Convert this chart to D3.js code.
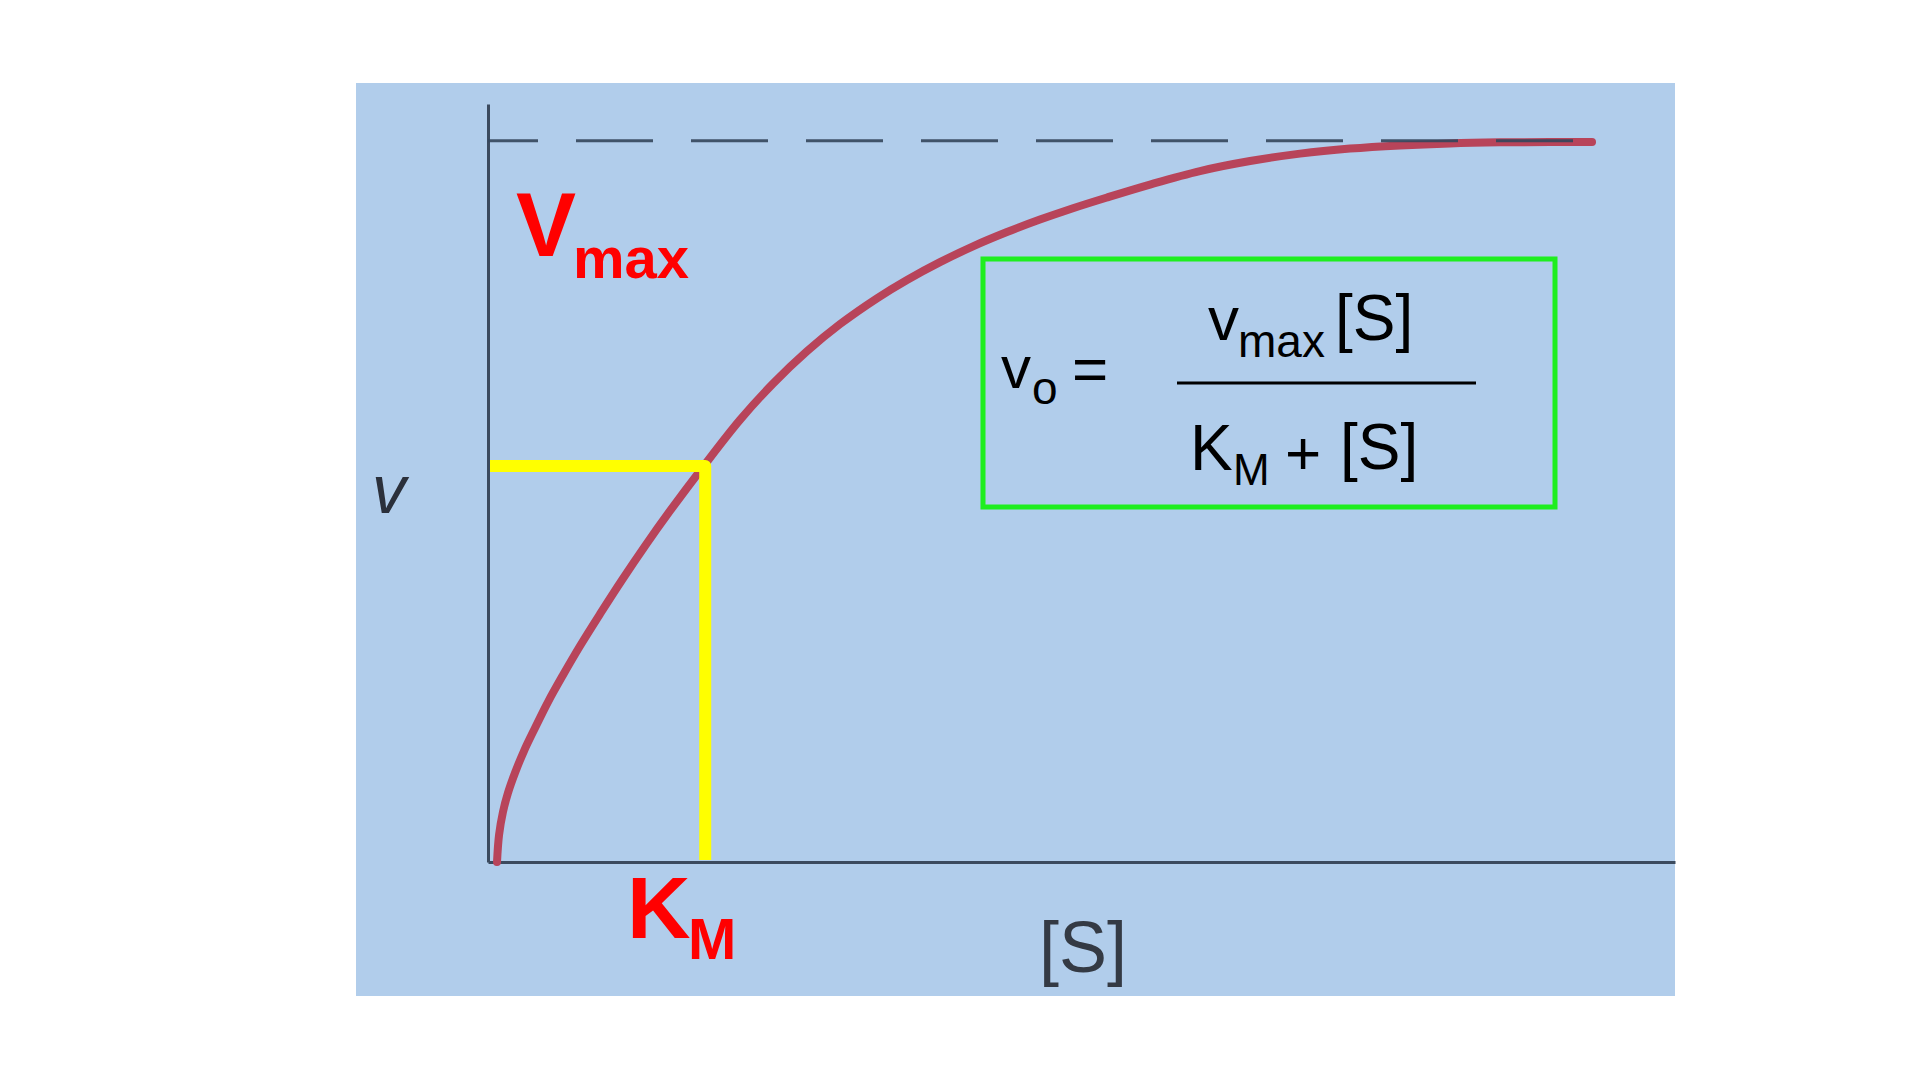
<!DOCTYPE html>
<html>
<head>
<meta charset="utf-8">
<script src="https://cdn.jsdelivr.net/npm/d3@7"></script>
<style>
  html, body { margin: 0; padding: 0; background: #ffffff; }
  svg { display: block; }
  text { font-family: "Liberation Sans", Arial, Helvetica, sans-serif; }
</style>
</head>
<body>
<svg id="chart" width="1920" height="1080"></svg>
<script>
// ---- data ----
const substrate = [0.76, 0.93, 1.26, 1.68, 2.27, 3.03, 3.96, 5.05, 6.32, 7.75, 9.44, 11.29, 13.23, 15.33, 18.11, 21.23, 24.01, 26.87, 29.65, 32.77, 35.30, 38.08, 40.86, 43.72, 46.50, 49.28, 52.15, 55.77, 59.98, 64.20, 68.41, 72.62, 76.83, 81.04, 85.26, 89.47, 93.01];
const velocity  = [0.0, 3.74, 6.93, 9.57, 12.34, 15.39, 18.58, 22.18, 25.93, 29.95, 34.39, 39.10, 43.82, 48.67, 54.77, 61.30, 66.33, 70.81, 74.57, 78.16, 80.70, 83.17, 85.36, 87.34, 89.07, 90.65, 92.14, 93.93, 95.80, 97.19, 98.22, 98.92, 99.36, 99.64, 99.78, 99.83, 99.83];
const vmaxLevel = 100;          // asymptote
const asymptoteExtent = [0, 91.6];
const kmValue = 18.3;           // K_M on the [S] axis
const halfLevel = 54.9;         // v at K_M as drawn
const xDomain = [0, 100];
const yDomain = [0, 105.1];

const svg = d3.select("#chart");

// background panel
svg.append("rect")
  .attr("x", 356).attr("y", 83).attr("width", 1319).attr("height", 913)
  .attr("fill", "#b1cdeb");

const x = d3.scaleLinear().domain(xDomain).range([488, 1675]);
const y = d3.scaleLinear().domain(yDomain).range([862, 104]);

// axes (domain lines only)
svg.append("g")
  .attr("transform", `translate(0,${y(0)})`)
  .call(d3.axisBottom(x).tickValues([]).tickSizeOuter(0));
svg.append("g")
  .attr("transform", `translate(${x(0)},0)`)
  .call(d3.axisLeft(y).tickValues([]).tickSizeOuter(0));
svg.selectAll(".domain").attr("stroke", "#3b4a5e").attr("stroke-width", 3);

// curve
const pts = substrate.map((s, i) => [s, velocity[i]]);
const line = d3.line().x(d => x(d[0])).y(d => y(d[1])).curve(d3.curveCatmullRom.alpha(0.5));
svg.append("path")
  .attr("d", line(pts))
  .attr("fill", "none")
  .attr("stroke", "#b8445a")
  .attr("stroke-width", 8)
  .attr("stroke-linecap", "round")
  .attr("stroke-linejoin", "round");

// Vmax asymptote (dashed)
svg.append("line")
  .attr("x1", x(asymptoteExtent[0])).attr("x2", x(asymptoteExtent[1]))
  .attr("y1", y(vmaxLevel)).attr("y2", y(vmaxLevel))
  .attr("stroke", "#34465c")
  .attr("stroke-width", 3)
  .attr("stroke-dasharray", "77,38")
  .attr("stroke-dashoffset", 27)
  .attr("opacity", 0.9);

// K_M guide (yellow)
const guide = d3.line()([[x(0) + 2, y(halfLevel)], [x(kmValue), y(halfLevel)], [x(kmValue), y(0) - 2]]);
svg.append("path")
  .attr("d", guide)
  .attr("fill", "none")
  .attr("stroke", "#ffff00")
  .attr("stroke-width", 12)
  .attr("stroke-linejoin", "round");

// red labels
svg.append("text").attr("x", 516).attr("y", 256)
  .attr("font-size", 90).attr("font-weight", "bold").attr("fill", "#ff0000").text("V");
svg.append("text").attr("x", 573).attr("y", 278)
  .attr("font-size", 58).attr("font-weight", "bold").attr("fill", "#ff0000").text("max");
svg.append("text").attr("x", 627).attr("y", 938)
  .attr("font-size", 88).attr("font-weight", "bold").attr("fill", "#ff0000").text("K");
svg.append("text").attr("x", 688).attr("y", 959)
  .attr("font-size", 58).attr("font-weight", "bold").attr("fill", "#ff0000").text("M");

// axis titles
svg.append("text").attr("x", 372).attr("y", 513)
  .attr("font-size", 68).attr("font-style", "italic").attr("fill", "#2b303b").text("v");
svg.append("text").attr("x", 1083).attr("y", 972).attr("text-anchor", "middle")
  .attr("font-size", 72).attr("fill", "#343a44").text("[S]");

// equation box
svg.append("rect")
  .attr("x", 983).attr("y", 259).attr("width", 572).attr("height", 248)
  .attr("fill", "none").attr("stroke", "#1fee1f").attr("stroke-width", 5);

const eq = svg.append("g").attr("fill", "#000000");
eq.append("text").attr("x", 1001).attr("y", 388).attr("font-size", 60).text("v");
eq.append("text").attr("x", 1032).attr("y", 404).attr("font-size", 46).text("o");
eq.append("text").attr("x", 1072).attr("y", 390).attr("font-size", 62).text("=");
eq.append("text").attr("x", 1208).attr("y", 340).attr("font-size", 62).text("v");
eq.append("text").attr("x", 1238).attr("y", 357).attr("font-size", 46).text("max");
eq.append("text").attr("x", 1335).attr("y", 340).attr("font-size", 64).text("[S]");
eq.append("line").attr("x1", 1177).attr("x2", 1476).attr("y1", 383).attr("y2", 383)
  .attr("stroke", "#000000").attr("stroke-width", 3);
eq.append("text").attr("x", 1190).attr("y", 470).attr("font-size", 64).text("K");
eq.append("text").attr("x", 1233).attr("y", 485).attr("font-size", 44).text("M");
eq.append("text").attr("x", 1285).attr("y", 474).attr("font-size", 62).text("+");
eq.append("text").attr("x", 1340).attr("y", 469).attr("font-size", 64).text("[S]");
</script>
</body>
</html>
